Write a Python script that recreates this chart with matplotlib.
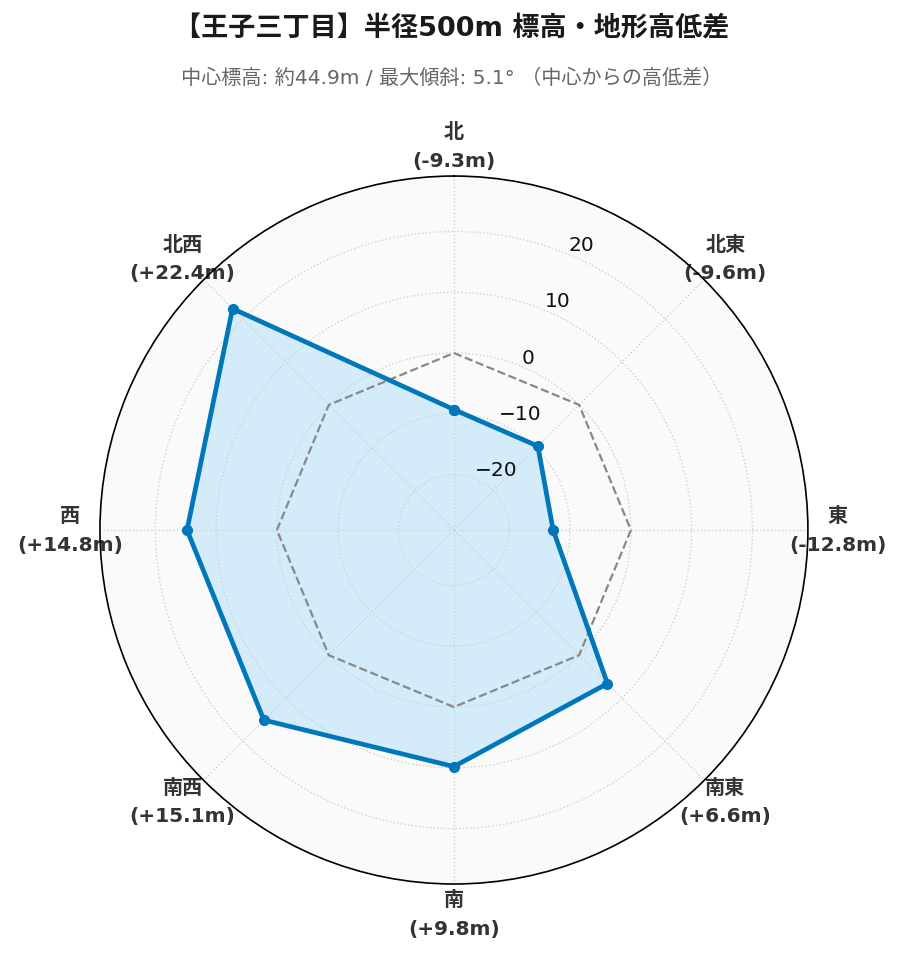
import numpy as np
import matplotlib.pyplot as plt

plt.rcParams['font.family'] = ['DejaVu Sans', 'Noto Sans CJK JP']

# data
directions = ['北', '北東', '東', '南東', '南', '南西', '西', '北西']
diffs = [-9.3, -9.6, -12.8, 6.6, 9.8, 15.1, 14.8, 22.4]
title = '【王子三丁目】半径500m 標高・地形高低差'
subtitle = '中心標高: 約44.9m / 最大傾斜: 5.1° （中心からの高低差）'

n = len(directions)
angles = np.linspace(0, 2 * np.pi, n, endpoint=False)
ang_c = np.append(angles, angles[0])
val_c = np.append(diffs, diffs[0])
lim = max(abs(v) for v in diffs) * 1.3

fig = plt.figure(figsize=(9.03, 9.62), dpi=100)
ax = fig.add_axes([0.1107, 0.080, 0.784, 0.736], projection='polar')
ax.set_theta_zero_location('N')
ax.set_theta_direction(-1)
ax.set_facecolor('#fafafa')
ax.set_ylim(-lim, lim)

ax.fill(ang_c, val_c, color='#d4ecf9', zorder=1)
ax.plot(ang_c, np.zeros(len(ang_c)), '--', color='#888888', lw=1.6, zorder=2)
ax.plot(ang_c, val_c, color='#0077bb', lw=3.4, marker='o', ms=7, zorder=3)

ax.set_yticks([-20, -10, 0, 10, 20])
ax.set_rlabel_position(22.5)
ax.tick_params(axis='y', labelsize=14.5, labelcolor='#111111')
ax.set_xticks(angles)
labels = [f'{d}\n({v:+.1f}m)' if v > 0 else f'{d}\n({v:.1f}m)' for d, v in zip(directions, diffs)]
ax.set_xticklabels(labels, fontsize=14.5, fontweight='bold', color='#333333', linespacing=1.65)
ax.tick_params(axis='x', pad=11)
ax.grid(color='#d0d0d0', linestyle=':', lw=1)
ax.spines['polar'].set_color('black')
ax.spines['polar'].set_linewidth(1.2)

fig.text(0.5, 0.969, title, ha='center', va='center', fontsize=19.5, fontweight='bold', color='#1a1a1a')
fig.text(0.5, 0.919, subtitle, ha='center', va='center', fontsize=14.5, color='#666666')

fig.savefig('out.png', dpi=100)
